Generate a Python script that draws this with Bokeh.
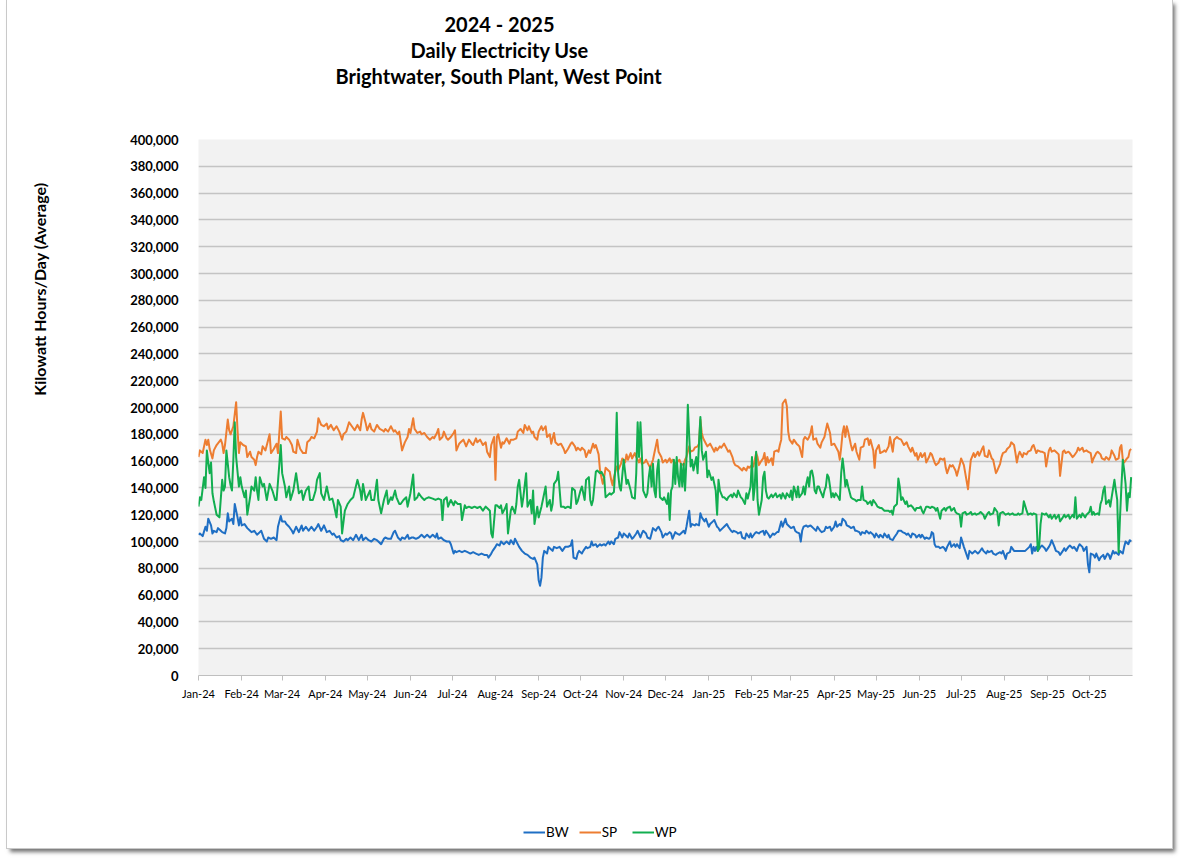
from datetime import datetime, timedelta

from bokeh.plotting import figure
from bokeh.layouts import column
from bokeh.models import (Range1d, Legend, LegendItem, MonthsTicker, Title,
                          DatetimeTickFormatter, FixedTicker, NumeralTickFormatter)
from bokeh.embed import file_html
from bokeh.resources import INLINE

# ---------------- data (day offset from 2024-01-01, kWh/day in thousands) ----------------
START = datetime(2024, 1, 1)
END = datetime(2025, 11, 1)

title_lines = ["2024 - 2025", "Daily Electricity Use", "Brightwater, South Plant, West Point"]
y_title = "Kilowatt Hours/Day (Average)"
series_names = ["BW", "SP", "WP"]
series_colors = ["#1F6FC4", "#ED7D31", "#12AE50"]
y_ticks = list(range(0, 400001, 20000))

bw_points = [
    (0,105),(1,106),(3,104),(5,111),(6,108),(7,117),(9,112),(10,106),(11,108),(13,107),(14,110),(16,108),
    (17,107),(19,106),(20,110),(21,121),(22,115),(24,117),(25,113),(26,128),(28,118),(29,112),(30,118),
    (31,112),(33,113),(35,110),(37,108),(38,107),(40,108),(42,105),(44,107),(45,108),(47,102),(49,100),
    (50,103),(52,102),(54,103),(56,101),(57,111),(59,119),(60,115),(62,115),(63,113),(65,111),(67,108),
    (68,106),(70,111),(72,107),(74,112),(75,108),(77,111),(79,108),(81,111),(83,108),(85,111),(86,113),
    (88,108),(90,112),(92,107),(94,108),(96,105),(97,106),(99,103),(101,104),(102,101),(104,100),(106,102),
    (107,101),(109,103),(111,101),(113,105),(115,101),(117,105),(118,101),(120,103),(122,101),(124,100),
    (126,102),(128,101),(129,100),(131,98),(133,102),
    (134,103),(136,102),(138,102),(140,107),(141,108),(143,103),(145,101),(146,103),(148,102),(150,105),
    (151,102),(153,103),(154,103),(156,102),(158,103),(160,105),(162,103),(164,105),(166,103),(168,105),
    (170,103),(171,106),(172,102),(174,103),(176,101),(178,100),(180,100),(181,98),(183,91),(184,93),
    (185,92),(187,93),(189,92),(191,93),(193,92),(195,91),(197,92),(199,91),(201,90),(203,91),(205,90),
    (207,90),(208,88),(210,91),(211,93),(213,96),(214,98),(216,97),(217,100),(219,98),(221,100),(223,98),
    (224,101),(226,98),(227,102),(228,100),(230,96),(232,93),(234,91),(236,90),(238,88),(240,87),(241,88),
    (243,83),(244,71),(245,67),(246,73),(247,88),(248,93),(250,91),(251,96),(252,95),(254,93),(255,96),
    (257,95),(259,96),(261,93),(263,96),(265,96),(267,97),(268,101),(269,88),(271,87),
    (272,91),(273,93),(275,91),(276,93),(278,96),(279,95),(281,96),(282,100),(283,97),(285,98),(286,96),
    (288,98),(289,97),(291,98),(292,97),(294,100),(295,98),(296,100),(298,98),(299,102),(301,103),(302,107),
    (304,103),(305,106),(306,105),(308,103),(309,106),(311,102),(312,103),(314,106),(315,108),(317,103),
    (318,106),(319,108),(321,106),(322,103),(324,102),(325,106),(326,110),(328,108),(329,110),(330,111),
    (332,107),(333,103),(335,106),(336,105),(338,107),(339,106),(340,102),(342,107),(343,106),(345,105),
    (346,106),(348,108),(349,106),(350,111),(352,123),(353,111),(354,113),(356,112),(357,113),(359,112),
    (360,121),(361,118),(363,115),(364,117),(366,111),(367,113),(369,115),(370,116),(372,111),(373,110),
    (374,108),(376,110),(377,111),(379,113),(380,111),(382,108),(383,107),(384,108),(386,107),(387,106),
    (389,107),(390,103),(392,102),(393,106),(395,103),(396,106),(397,103),(399,106),(400,107),(402,106),
    (403,107),(405,108),
    (406,105),(407,108),(409,105),(410,103),(412,106),(413,105),(415,107),(416,107),(417,111),(418,115),
    (419,111),(421,117),(422,113),(424,111),(425,110),(427,111),(428,108),(429,107),(431,106),(432,100),
    (433,108),(434,111),(436,112),(437,111),(439,112),(440,111),(441,110),(443,108),(444,111),(446,108),
    (447,107),(449,108),(450,111),(451,110),(453,111),(454,108),(456,111),(457,115),(458,111),(460,113),
    (461,112),(462,117),(464,115),(465,112),(467,111),(468,110),(470,111),(471,108),(472,108),(474,107),
    (475,105),(476,107),(478,106),(479,108),(481,106),(482,107),(484,105),(485,103),(486,106),(488,103),
    (489,105),(491,103),(492,106),(494,103),(495,105),(496,102),(498,101),(499,103),(501,106),(502,108),
    (504,108),(505,107),(507,106),(508,105),(509,106),(511,103),(512,106),(514,105),(515,103),(517,105),
    (518,103),(519,105),(521,102),(522,103),(524,102),(525,103),(526,107),(527,106),(528,98),(529,96),
    (531,96),(532,95),(534,96),(535,95),(536,93),
    (537,96),(539,100),(540,96),(542,98),(543,96),(544,98),(546,95),(547,103),(549,96),(550,93),(552,87),
    (553,93),(555,91),(556,92),(557,93),(559,91),(560,92),(562,95),(563,93),(565,91),(566,93),(567,92),
    (569,93),(570,91),(572,90),(573,91),(575,92),(576,91),(577,93),(579,87),(580,91),(582,92),(583,96),
    (585,93),(586,93),(588,93),(591,93),(593,93),(596,96),(597,98),(598,91),(599,96),(600,93),(601,96),
    (602,93),(604,96),(605,97),(607,95),(608,93),(610,96),(611,98),(612,101),(614,96),(615,93),(617,92),
    (618,90),(620,93),(621,95),(622,93),(624,96),(625,97),(627,95),(628,96),(630,93),(631,96),(632,98),
    (634,96),(635,93),(637,96),(638,83),(639,77),(640,91),(642,90),(643,88),(644,91),(646,86),(647,88),
    (649,90),(650,87),(652,91),(653,90),(654,87),(656,93),(657,91),(658,92),(660,90),(661,93),(663,91),
    (664,96),(665,100),(667,98),(668,101),(669,100),
]

sp_points = [
    (0,163),(1,168),(3,166),(5,176),(6,172),(7,176),(8,169),(10,162),(11,168),(13,172),(16,176),(17,173),
    (18,166),(19,172),(21,191),(22,183),(23,180),(25,186),(27,204),(28,183),(29,166),(30,174),(32,172),
    (34,171),(35,163),(37,167),(38,163),(40,161),(41,157),(42,163),(43,167),(45,165),(46,171),(48,168),
    (50,176),(51,180),(52,166),(54,169),(56,173),(57,166),(59,197),(60,177),(62,176),(63,178),(65,176),
    (67,172),(68,167),(70,166),(71,176),(73,169),(75,166),(77,166),(78,174),(80,176),(81,178),(83,177),
    (85,182),(86,192),(88,187),(90,186),(92,188),(93,184),(95,187),(97,183),(99,186),(101,182),(103,176),
    (104,180),(106,182),(108,189),(110,186),(112,183),(114,187),(116,183),(117,191),(118,196),(120,188),
    (121,183),(123,188),(124,184),(126,182),(128,187),(130,184),(132,183),(133,182),
    (134,184),(136,182),(138,186),(140,182),(141,183),(143,180),(144,182),(146,168),(148,174),(150,178),
    (151,184),(152,181),(154,192),(155,184),(157,181),(159,182),(160,180),(162,181),(164,178),(166,176),
    (168,178),(169,177),(171,181),(172,184),(173,176),(175,178),(176,182),(178,177),(179,176),(181,178),
    (183,181),(184,183),(185,168),(187,173),(188,174),(190,176),(192,171),(194,176),(196,173),(197,172),
    (199,177),(200,174),(202,176),(204,172),(206,174),(207,167),(209,163),(210,172),(212,178),(213,146),
    (214,178),(215,180),(217,170),(218,174),(219,173),(221,177),(223,173),(224,176),(226,176),(228,177),
    (229,182),(231,184),(233,181),(234,187),(236,183),(237,186),(239,181),(240,182),(241,178),(243,176),
    (244,182),(246,186),(247,183),(249,186),(250,178),(252,180),(253,173),(255,181),(256,174),(258,172),
    (260,173),(262,169),(263,166),(265,169),
    (267,173),(268,174),(270,171),(271,168),(272,170),(274,168),(275,170),(277,168),(278,163),(280,168),
    (281,166),(283,173),(284,170),(285,172),(287,165),(288,153),(290,143),(291,148),(292,155),(294,153),
    (295,152),(296,146),(297,142),(298,148),(300,156),(301,153),(303,158),(304,162),(306,159),(307,165),
    (308,161),(310,166),(311,162),(313,166),(314,163),(316,159),(317,162),(318,158),(320,159),(321,161),
    (323,157),(324,155),(326,161),(327,166),(328,171),(329,176),(330,167),(332,163),(333,159),(335,161),
    (336,159),(338,162),(339,159),(340,161),(342,158),(343,159),(345,161),(346,158),(348,157),(349,161),
    (350,163),(352,171),(353,167),(355,168),(356,170),(358,171),(359,173),(360,191),(361,181),(362,177),
    (364,173),(365,171),(367,173),(368,171),(370,167),(371,170),(372,168),(374,171),(375,170),(377,173),
    (378,171),(380,167),(381,168),(383,163),(384,159),(385,157),(387,156),(388,155),(390,153),(391,155),
    (393,153),(394,156),(395,155),(397,157),(398,156),(400,166),(401,163),(402,157),
    (403,159),(405,162),(406,166),(407,157),(408,163),(409,159),(411,162),(412,157),(413,167),(415,168),
    (416,167),(417,172),(418,176),(419,203),(421,206),(422,201),(423,182),(424,176),(426,173),(427,176),
    (429,173),(430,172),(431,171),(433,163),(434,176),(435,178),(437,176),(438,178),(439,181),(440,186),
    (441,176),(443,177),(444,173),(446,170),(447,174),(449,178),(450,183),(451,188),(453,181),(454,172),
    (456,173),(457,171),(459,167),(460,161),(461,170),(462,181),(463,186),(464,178),(465,186),(466,182),
    (468,172),(469,168),(471,173),(472,167),(474,161),(475,170),(477,171),(478,176),(480,177),(481,172),
    (482,176),(484,168),(485,155),(486,168),(488,172),(489,166),(491,167),(492,168),(493,167),(495,171),
    (496,178),(498,167),(499,176),(501,178),(502,177),(504,176),(505,174),(506,172),(508,174),(509,171),
    (511,167),(512,170),(514,164),(515,166),(516,161),(518,166),(519,163),(521,166),(522,159),(524,163),
    (525,166),(526,165),(528,159),(529,157),(531,159),(532,162),(534,161),(535,162),(536,155),
    (537,151),(539,157),(540,156),(541,157),(543,153),(544,149),(546,157),(547,162),(549,157),(550,151),
    (552,139),(553,151),(554,161),(556,166),(557,163),(559,167),(560,164),(562,169),(563,171),(564,164),
    (566,163),(567,168),(569,162),(570,161),(572,151),(573,153),(575,158),(576,163),(577,166),(579,167),
    (580,169),(582,171),(583,174),(585,172),(586,166),(587,159),(588,164),(589,167),(591,163),(592,166),
    (594,165),(595,167),(597,168),(598,171),(599,172),(601,166),(602,168),(604,167),(605,167),(607,166),
    (608,156),(610,168),(611,170),(612,167),(614,168),(615,167),(617,165),(618,149),(620,167),(621,168),
    (622,166),(624,167),(625,166),(627,163),(628,164),(630,167),(631,170),(632,168),(634,170),(635,167),
    (637,168),(638,167),(640,166),(641,159),(642,162),(644,166),(645,167),(647,165),(648,162),(650,161),
    (651,163),(653,161),(654,163),(655,168),(657,164),(658,161),(660,162),(661,170),(662,172),(663,161),
    (664,159),(666,162),(667,163),(668,168),(669,169),
]

wp_points = [
    (0,126),(1,133),(2,131),(4,148),(5,140),(6,168),(7,159),(8,151),(9,159),(10,136),(11,130),(13,120),
    (15,118),(17,146),(18,138),(19,141),(20,168),(22,148),(23,142),(24,138),(25,161),(26,189),(27,163),
    (29,141),(30,148),(31,141),(33,133),(34,138),(35,120),(37,133),(38,141),(40,138),(41,148),(42,138),
    (43,131),(44,148),(46,141),(47,143),(49,131),(51,143),(53,138),(55,131),(56,131),(58,158),(59,172),
    (60,151),(62,141),(63,133),(65,141),(66,131),(68,138),(70,151),(72,136),(74,138),(75,131),(77,138),
    (79,141),(80,131),(82,131),(84,138),(85,146),(87,151),(88,136),(90,131),(92,141),(94,131),(96,132),
    (97,128),(99,118),(100,131),(102,126),(103,106),(105,123),(107,128),(109,131),(111,133),(114,146),
    (116,138),(117,131),(118,143),(120,131),(123,138),(124,131),(126,131),(128,146),(129,131),
    (131,121),(133,131),(135,138),(136,128),(138,133),(139,131),(141,138),(142,133),(144,128),(145,128),
    (147,131),(149,133),(150,126),(151,131),(152,136),(154,150),(155,131),(157,133),(158,136),(160,133),
    (162,131),(163,132),(165,133),(168,132),(170,131),(172,132),(174,131),(175,116),(176,131),(178,133),
    (179,126),(181,131),(183,127),(184,130),(186,128),(188,128),(189,116),(191,127),(192,125),(194,126),
    (196,125),(198,126),(200,125),(202,126),(204,123),(206,126),(207,125),(209,123),(210,106),(211,103),
    (213,127),(214,127),(216,125),(217,127),(218,121),(220,125),(221,128),(222,106),(224,123),(225,126),
    (227,121),(228,128),(229,141),(230,146),(232,126),(233,133),(235,151),(236,126),(238,131),(239,121),
    (240,138),(241,113),(243,126),(244,118),(246,126),(247,131),(249,141),(250,126),(252,131),(253,123),
    (254,128),(255,143),(257,146),(258,152),(260,126),(262,126),(263,125),(265,126),
    (267,125),(268,140),(270,138),(271,128),(272,130),(274,138),(275,141),(277,131),(278,146),(280,148),
    (281,131),(282,127),(283,131),(285,152),(286,153),(288,151),(289,152),(291,148),(292,133),(294,135),
    (295,136),(296,135),(298,137),(299,156),(300,196),(301,151),(302,141),(303,138),(305,161),(307,143),
    (308,146),(310,138),(311,133),(313,132),(314,151),(315,189),(316,163),(317,189),(318,166),(319,138),
    (321,133),(322,136),(323,148),(324,156),(325,141),(326,158),(327,138),(328,133),(329,153),(330,161),
    (331,133),(333,131),(334,133),(336,128),(337,136),(338,116),(339,138),(340,141),(341,161),(342,143),
    (343,163),(344,148),(345,141),(346,158),(347,141),(348,158),(349,138),(350,161),(351,202),(352,178),
    (353,156),(354,161),(355,153),(357,163),(358,151),(359,173),(360,193),(361,168),(362,161),(364,167),
    (365,148),(366,153),(368,146),(369,148),(371,138),(372,120),(373,146),(374,138),(376,133),(377,133),
    (379,131),(380,133),(382,135),(383,133),(384,136),(386,133),(387,138),(389,133),(390,132),(392,128),
    (393,136),(394,132),(396,141),(397,163),(398,131),(399,141),(400,167),(401,131),(402,120),(404,131),
    (405,148),
    (406,152),(407,138),(408,133),(409,132),(411,135),(412,133),(414,136),(415,133),(417,135),(418,132),
    (419,136),(421,132),(422,136),(424,133),(425,138),(426,131),(427,141),(428,138),(429,133),(430,141),
    (431,133),(433,136),(434,141),(435,135),(436,143),(437,148),(438,141),(439,152),(440,153),(441,148),
    (442,138),(443,136),(444,141),(445,141),(446,138),(448,133),(449,138),(450,141),(451,150),(452,148),
    (453,141),(454,133),(455,136),(456,133),(457,136),(459,133),(460,131),(461,151),(462,162),(463,153),
    (464,141),(465,146),(466,141),(468,133),(469,132),(471,131),(472,130),(473,131),(475,131),(476,141),
    (477,131),(479,130),(480,128),(482,130),(483,127),(484,131),(486,128),(487,126),(489,125),(490,125),
    (492,123),(493,123),(495,123),(496,122),(497,123),(498,120),(499,126),(501,128),(502,147),(503,141),
    (504,131),(505,133),(507,128),(508,130),(509,126),(511,127),(512,126),(514,123),(515,125),(517,125),
    (518,126),(519,123),(520,121),(522,126),(523,126),(525,125),(526,126),(528,125),(529,123),(530,125),
    (532,117),(533,123),(535,125),(536,123),
    (537,125),(539,126),(540,123),(542,125),(543,122),(544,121),(546,120),(547,111),(548,121),(550,122),
    (551,120),(553,121),(554,122),(555,120),(557,121),(558,120),(560,121),(561,122),(563,120),(564,117),
    (566,121),(567,122),(568,120),(570,121),(571,125),(573,122),(574,112),(575,121),(577,122),(578,121),
    (579,120),(581,121),(582,120),(584,121),(585,120),(587,120),(588,121),(589,120),(591,121),(592,130),
    (594,123),(595,120),(597,121),(598,120),(599,121),(601,120),(602,93),(603,96),(604,113),(605,121),
    (607,120),(608,121),(610,118),(611,120),(612,117),(614,120),(615,117),(617,120),(618,115),(620,118),
    (621,120),(622,118),(624,120),(625,117),(627,120),(628,118),(629,133),(630,117),(632,120),(633,118),
    (634,121),(636,118),(637,120),(639,122),(640,126),(641,120),(642,122),(643,120),(645,121),(646,120),
    (647,128),(648,131),(649,138),(650,141),(651,128),(653,131),(654,126),(655,133),(657,146),(658,138),
    (659,131),(660,92),(661,118),(662,141),(663,161),(664,153),(665,143),(666,123),(667,136),(668,133),
    (669,148),
]

# ---------------- main figure ----------------
FONT = "Lato"

p = figure(
    width=1165, height=800,
    min_border_left=191, min_border_right=40, min_border_top=139, min_border_bottom=125,
    x_axis_type="datetime",
    x_range=Range1d(START, END - timedelta(hours=1)),
    y_range=Range1d(0, 400000),
    output_backend="svg", toolbar_location=None,
    background_fill_color="#F2F2F2", border_fill_color="white",
    outline_line_color=None, title_location=None,
)

series_xy = []
for name, color, pts in zip(series_names, series_colors, [bw_points, sp_points, wp_points]):
    xs = [START + timedelta(days=d) for d, _ in pts]
    ys = [v * 1000 for _, v in pts]
    series_xy.append((xs, ys))
    p.line(xs, ys, line_color=color, line_width=2, line_join="round")

# grid
p.xgrid.grid_line_color = None
p.ygrid.grid_line_color = "#C4C4C4"
p.ygrid.grid_line_width = 1.3

# y axis
p.yaxis.ticker = FixedTicker(ticks=y_ticks)
p.yaxis.formatter = NumeralTickFormatter(format="0,0")
p.yaxis.axis_line_color = None
p.yaxis.major_tick_line_color = None
p.yaxis.minor_tick_line_color = None
p.yaxis.major_label_standoff = 14
p.yaxis.major_label_text_font = FONT
p.yaxis.major_label_text_font_style = "bold"
p.yaxis.major_label_text_font_size = "13px"
p.yaxis.major_label_text_color = "#000000"

# x axis
p.xaxis.ticker = MonthsTicker(months=list(range(12)))
p.xaxis.formatter = DatetimeTickFormatter(months="%b-%y", days="%b-%y", years="%b-%y")
p.xaxis.axis_line_color = "#BFBFBF"
p.xaxis.major_tick_line_color = "#BFBFBF"
p.xaxis.major_tick_out = 5
p.xaxis.major_tick_in = 0
p.xaxis.minor_tick_line_color = None
p.xaxis.major_label_standoff = 6
p.xaxis.major_label_text_font = FONT
p.xaxis.major_label_text_font_size = "11px"
p.xaxis.major_label_text_color = "#000000"

# title block (stacked in the panel above the frame)
p.add_layout(Title(text=" ", standoff=26, text_font=FONT, text_font_size="20px"), "above")
for text, off in zip(reversed(title_lines), [137, 212, 246]):
    p.add_layout(Title(text=text, align="left", offset=off, standoff=0,
                       text_font=FONT, text_font_style="bold", text_font_size="20px",
                       text_color="#000000"), "above")

# y axis title (left panel, beyond a spacer)
p.add_layout(Title(text=" ", standoff=57, text_font=FONT, text_font_size="16px"), "left")
p.add_layout(Title(text=y_title, align="right", offset=43, standoff=0, vertical_align="middle",
                   text_font=FONT, text_font_style="bold", text_font_size="16px",
                   text_color="#000000"), "left")

# ---------------- legend strip (own figure, legend inside its frame) ----------------
# the series are drawn here too, but far outside this strip's ranges, so only
# their legend samples show
lg = figure(width=1165, height=48, min_border=0, x_range=Range1d(0, 1), y_range=Range1d(0, 1),
            x_axis_location=None, y_axis_location=None, output_backend="svg",
            toolbar_location=None, outline_line_color=None, title_location=None,
            background_fill_color="white", border_fill_color="white")
lg.grid.visible = False
items = []
for name, color, (xs, ys) in zip(series_names, series_colors, series_xy):
    r = lg.line(xs, ys, line_color=color, line_width=2)
    items.append(LegendItem(label=name, renderers=[r]))
legend = Legend(items=items, location=(325, 6), orientation="horizontal",
                glyph_width=22, glyph_height=20, label_standoff=1, spacing=10,
                padding=0, margin=0, border_line_color=None, background_fill_alpha=0,
                label_text_font=FONT, label_text_font_size="13.5px", label_text_color="#000000")
lg.add_layout(legend, "center")

page = column(p, lg, spacing=0,
              styles={"margin-left": "7px",
                      "box-shadow": "0 0 0 1px #C9C9C9, 3px 4px 4px rgba(0,0,0,0.55)"})

open("out.html", "w").write(file_html(page, INLINE))
